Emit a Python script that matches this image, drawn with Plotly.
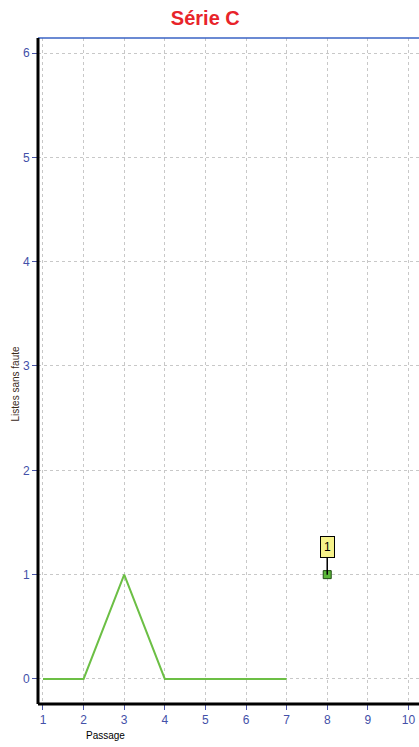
import plotly.graph_objects as go

passages = [1, 2, 3, 4, 5, 6, 7]
listes = [0, 0, 1, 0, 0, 0, 0]
point_x = [8]
point_y = [1]
point_label = "1"

fig = go.Figure()
fig.add_trace(go.Scatter(x=passages, y=listes, mode="lines",
                         line=dict(color="#6cbf45", width=2), hoverinfo="skip"))
fig.add_trace(go.Scatter(x=point_x, y=point_y, mode="markers",
                         marker=dict(symbol="square", size=8, color="#5cb83a",
                                     line=dict(color="#1e4d12", width=1))))

fig.add_annotation(x=point_x[0], y=point_y[0], text=point_label, showarrow=True,
                   arrowhead=0, arrowwidth=1.5, arrowcolor="black", ax=0, ay=-28,
                   bgcolor="#f6f28a", bordercolor="black", borderwidth=1, borderpad=3,
                   font=dict(family="Arial", size=12, color="black"))

# axis titles placed by hand like in the original
fig.add_annotation(text="Passage", xref="paper", yref="paper", x=0.176, y=-0.048,
                   xanchor="center", yanchor="middle", showarrow=False,
                   font=dict(family="Arial", size=10, color="black"))
fig.add_annotation(text="Listes sans faute", xref="paper", yref="paper", x=-0.06, y=0.48,
                   xanchor="center", yanchor="middle", textangle=-90, showarrow=False,
                   font=dict(family="Arial", size=10, color="#3a2a1a"))

grid = dict(showgrid=True, gridcolor="#c8c8c8", griddash="3px,3px", gridwidth=1,
            zeroline=False, showline=False, mirror=False,
            ticks="outside", ticklen=5, tickcolor="#4a55a8",
            tickfont=dict(family="Arial", size=12, color="#4350a8"))

fig.update_layout(
    width=419, height=747,
    margin=dict(l=38, r=0, t=38, b=43),
    paper_bgcolor="white", plot_bgcolor="white",
    showlegend=False,
    title=dict(text="<b>Série C</b>", x=0.49, xanchor="center", y=0.976, yanchor="middle",
               font=dict(family="Arial", size=20, color="#e8242a")),
    xaxis=dict(range=[0.877, 10.26], tickmode="linear", tick0=1, dtick=1, **grid),
    yaxis=dict(range=[-0.24, 6.144], tickmode="linear", tick0=0, dtick=1, **grid),
)

# frame: blue top, black left and bottom
fig.add_shape(type="line", xref="paper", yref="paper", x0=0, x1=1, y0=1, y1=1,
              line=dict(color="#3a63c4", width=1.5))
fig.add_shape(type="line", xref="paper", yref="paper", x0=0, x1=0, y0=0, y1=1,
              line=dict(color="black", width=3))
fig.add_shape(type="line", xref="paper", yref="paper", x0=0, x1=1, y0=0, y1=0,
              line=dict(color="black", width=3))

fig.write_html("out.html", config={"displayModeBar": False},
               post_script="document.body.style.margin='0';document.body.style.overflow='hidden';")
